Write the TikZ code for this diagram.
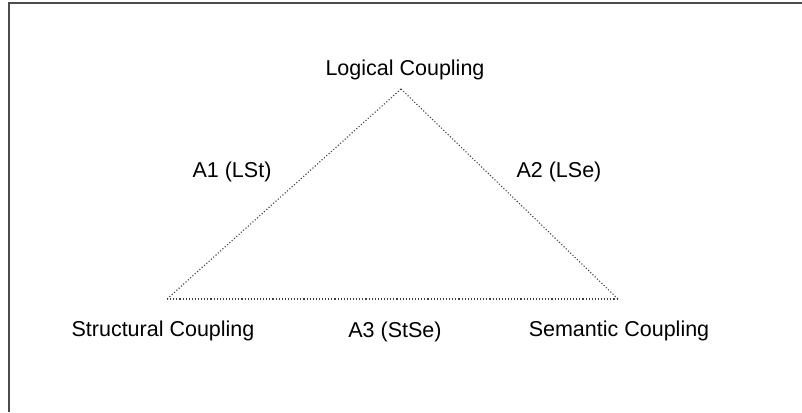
\documentclass[tikz,border=0pt]{standalone}
\usepackage{fontspec}
\setmainfont{Liberation Sans}
\begin{document}
\begin{tikzpicture}[x=1pt,y=-1pt,
  lbl/.style={font=\fontsize{21.5}{24}\selectfont, text=black, inner sep=0pt},
  edge/.style={draw=black!75, line width=1.1pt, dotted}]
\useasboundingbox (0,0) rectangle (802,412);
% frame on the top and left sides
\draw[black!70, line width=1.6pt] (9,412) -- (9,3) -- (802,3);
% corners of the triangle
\coordinate (L) at (401,89);
\coordinate (S) at (167,299);
\coordinate (M) at (618,299);
\draw[edge] (L) -- (S);
\draw[edge] (L) -- (M);
\draw[edge] (S) -- (M);
% labels
\node[lbl] (logical) at (405,70) {Logical Coupling};
\node[lbl] (structural) at (163,331) {Structural Coupling};
\node[lbl] (semantic) at (619,331) {Semantic Coupling};
\node[lbl] (a1) at (232,172) {A1 (LSt)};
\node[lbl] (a2) at (559,172) {A2 (LSe)};
\node[lbl] (a3) at (395,332) {A3 (StSe)};
\end{tikzpicture}
\end{document}
